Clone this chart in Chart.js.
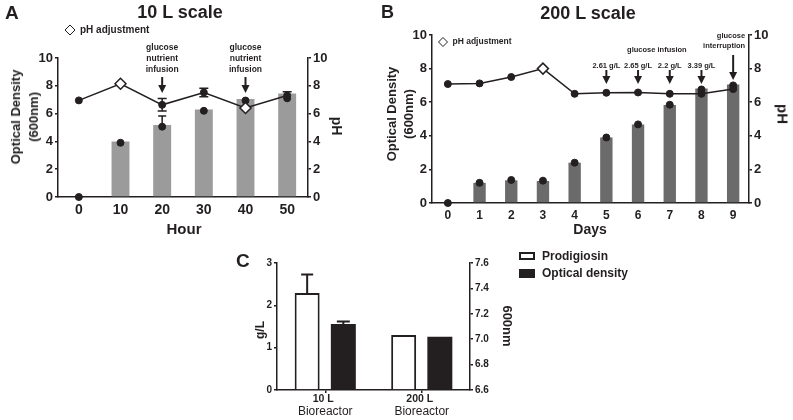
<!DOCTYPE html>
<html>
<head>
<meta charset="utf-8">
<script src="https://cdn.jsdelivr.net/npm/chart.js@4.4.1/dist/chart.umd.min.js"></script>
<style>
  body { margin: 0; background: #fff; }
  #page { position: relative; width: 793px; height: 420px; overflow: hidden; font-family: "Liberation Sans", Arial, sans-serif; color: #231f20; }
  canvas { position: absolute; }
  .t { position: absolute; font-weight: bold; white-space: nowrap; line-height: 1; }
  .c { transform: translate(-50%, -50%); text-align: center; }
  .rl { transform: translate(-50%, -50%) rotate(-90deg); text-align: center; }
  .rr { transform: translate(-50%, -50%) rotate(90deg); text-align: center; }
  .box { position: absolute; box-sizing: border-box; }
</style>
</head>
<body>
<div id="page">
  <canvas id="chartA" width="340" height="240" style="left:0;top:0"></canvas>
  <canvas id="chartB" width="413" height="240" style="left:380px;top:0"></canvas>
  <canvas id="chartC" width="300" height="180" style="left:200px;top:240px"></canvas>

  <div class="t" style="left:5px;top:3px;font-size:19px">A</div>
  <div class="t c" style="left:180px;top:12px;font-size:18px">10 L scale</div>
  <div class="t rl" style="left:25px;top:117px;font-size:13px;line-height:18px">Optical Density<br>(600nm)</div>
  <div class="t rr" style="left:337px;top:126px;font-size:14px">pH</div>
  <div class="t c" style="left:184px;top:228px;font-size:15px">Hour</div>

  <div class="t" style="left:381px;top:3px;font-size:18px">B</div>
  <div class="t c" style="left:588px;top:13px;font-size:18px">200 L scale</div>
  <div class="t rl" style="left:400px;top:114px;font-size:13px;line-height:17px">Optical Density<br>(600nm)</div>
  <div class="t rr" style="left:783px;top:114px;font-size:15px">pH</div>
  <div class="t c" style="left:590px;top:229px;font-size:14px">Days</div>

  <div class="t" style="left:236px;top:251px;font-size:19px">C</div>
  <div class="t rl" style="left:260px;top:330px;font-size:12px">g/L</div>
  <div class="t rr" style="left:507px;top:326px;font-size:13px">600nm</div>
  <div class="box" style="left:519px;top:252px;width:16px;height:8px;border:2px solid #231f20;background:#fff"></div>
  <div class="box" style="left:519px;top:269px;width:16px;height:9px;background:#231f20"></div>
  <div class="t" style="left:542px;top:250px;font-size:12px">Prodigiosin</div>
  <div class="t" style="left:542px;top:267px;font-size:12px">Optical density</div>
</div>

<script>
const FONT = '"Liberation Sans", Arial, sans-serif';
const INK = "#231f20";

// Panel A: 10 L scale
const hoursA = ["0", "10", "20", "30", "40", "50"];
const odBarsA = [0, 4.0, 5.18, 6.3, 7.05, 7.45];
const odBarErrA = [0, 0, 0.65, 0, 0, 0];
const odDotsA = [0, 3.9, 5.06, 6.2, 6.94, 7.1];
const phA = [6.95, 8.15, 6.63, 7.52, 6.4, 7.3];
const phErrA = [0, 0, 0.45, 0.3, 0.55, 0.28];
const phAdjustA = [1, 4];
const infusionA = [2, 4];

// Panel B: 200 L scale
const daysB = ["0", "1", "2", "3", "4", "5", "6", "7", "8", "9"];
const odBarsB = [0, 1.2, 1.35, 1.31, 2.4, 3.9, 4.67, 5.83, 6.82, 7.06];
const odDotsB = [0, 1.2, 1.37, 1.33, 2.4, 3.9, 4.68, 5.85, 6.76, 7.0];
const phB = [7.08, 7.12, 7.5, 8.0, 6.5, 6.56, 6.58, 6.5, 6.5, 6.78];
const phAdjustB = [3];
const infusionDaysB = [5, 6, 7, 8];
const infusionConcB = ["2.61 g/L", "2.65 g/L", "2.2 g/L", "3.39 g/L"];
const interruptionDayB = 9;

// Panel C: comparison
const reactorsC = ["10 L", "200 L"];
const prodigiosinC = [2.29, 1.30];
const prodigiosinErrC = [0.44, 0];
const odC = [7.12, 7.02];
const odErrC = [0.02, 0];

Chart.defaults.font.family = FONT;
Chart.defaults.color = INK;
Chart.defaults.animation = false;
Chart.defaults.plugins.legend.display = false;
Chart.defaults.plugins.tooltip.enabled = false;

// error bars drawn behind the datasets, from the scale of each dataset
const errorBars = {
  id: "errorBars",
  beforeDatasetsDraw(chart) {
    const ctx = chart.ctx;
    chart.data.datasets.forEach((ds, i) => {
      if (!ds.errors) return;
      const meta = chart.getDatasetMeta(i);
      const yScale = chart.scales[ds.yAxisID];
      ctx.save();
      ctx.strokeStyle = INK;
      ctx.lineWidth = ds.errorWidth || 1.5;
      meta.data.forEach((el, j) => {
        const e = ds.errors[j];
        if (!e) return;
        const x = el.x;
        const yTop = yScale.getPixelForValue(ds.data[j] + e);
        const yBot = ds.errorUpOnly ? el.y : yScale.getPixelForValue(ds.data[j] - e);
        const cap = ds.capWidth || 4;
        ctx.beginPath();
        ctx.moveTo(x, yTop);
        ctx.lineTo(x, yBot);
        ctx.moveTo(x - cap, yTop);
        ctx.lineTo(x + cap, yTop);
        if (!ds.errorUpOnly) {
          ctx.moveTo(x - cap, yBot);
          ctx.lineTo(x + cap, yBot);
        }
        ctx.stroke();
      });
      ctx.restore();
    });
  }
};

function drawArrow(ctx, x, y1, y2) {
  ctx.beginPath();
  ctx.moveTo(x, y1);
  ctx.lineTo(x, y2 - 6);
  ctx.lineWidth = 2;
  ctx.stroke();
  ctx.beginPath();
  ctx.moveTo(x - 4, y2 - 8);
  ctx.lineTo(x + 4, y2 - 8);
  ctx.lineTo(x, y2);
  ctx.closePath();
  ctx.fill();
}

function drawDiamondKey(ctx, x, y, r, label, size) {
  ctx.beginPath();
  ctx.moveTo(x, y - r);
  ctx.lineTo(x + r, y);
  ctx.lineTo(x, y + r);
  ctx.lineTo(x - r, y);
  ctx.closePath();
  ctx.fillStyle = "#fff";
  ctx.fill();
  ctx.lineWidth = 1;
  ctx.strokeStyle = INK;
  ctx.stroke();
  ctx.fillStyle = INK;
  ctx.font = "bold " + size + "px " + FONT;
  ctx.textAlign = "left";
  ctx.textBaseline = "middle";
  ctx.fillText(label, x + r + 5, y);
}

function yAxis(pos, min, max, step, width, fontSize, fmt) {
  return {
    position: pos,
    min: min,
    max: max,
    ticks: {
      stepSize: step,
      color: INK,
      padding: 2,
      font: { size: fontSize, weight: "bold" },
      callback: fmt || ((v) => v)
    },
    grid: { drawOnChartArea: false, drawTicks: true, tickLength: 3, color: INK, lineWidth: 1.5 },
    border: { display: true, color: INK, width: 1.5 },
    afterFit: (s) => { s.width = width; }
  };
}

function xAxis(height, fontSize, padding) {
  return {
    type: "category",
    offset: true,
    grid: { display: false, drawTicks: false },
    border: { display: true, color: INK, width: 1.5 },
    ticks: { padding: padding, color: INK, font: { size: fontSize, weight: "bold" } },
    afterFit: (s) => { s.height = height; }
  };
}

function phDataset(values, adjust, errors) {
  return {
    type: "line",
    data: values,
    yAxisID: "y2",
    borderColor: INK,
    borderWidth: 1.5,
    tension: 0,
    clip: false,
    pointStyle: values.map((v, i) => (adjust.includes(i) ? "rectRot" : "circle")),
    pointRadius: values.map((v, i) => (adjust.includes(i) ? 5.5 : 3.5)),
    pointBackgroundColor: values.map((v, i) => (adjust.includes(i) ? "#fff" : INK)),
    pointBorderColor: INK,
    pointBorderWidth: values.map((v, i) => (adjust.includes(i) ? 1.5 : 1)),
    errors: errors,
    capWidth: 4.5,
    order: 0
  };
}

function dotDataset(values) {
  return {
    type: "line",
    data: values,
    yAxisID: "y",
    showLine: false,
    clip: false,
    pointRadius: 3.5,
    pointBackgroundColor: INK,
    pointBorderColor: INK,
    order: 1
  };
}

// ---------- A ----------
const annotateA = {
  id: "annotateA",
  afterDraw(chart) {
    const ctx = chart.ctx;
    const x = chart.scales.x;
    ctx.save();
    ctx.fillStyle = INK;
    ctx.strokeStyle = INK;
    ctx.font = "bold 8.5px " + FONT;
    ctx.textAlign = "center";
    ctx.textBaseline = "middle";
    infusionA.forEach((i) => {
      const px = x.getPixelForValue(i);
      ["glucose", "nutrient", "infusion"].forEach((s, k) => ctx.fillText(s, px, 48 + k * 11));
      drawArrow(ctx, px, 77, 93);
    });
    drawDiamondKey(ctx, 70, 30, 5, "pH adjustment", 10);
    ctx.restore();
  }
};

new Chart(document.getElementById("chartA"), {
  type: "bar",
  data: {
    labels: hoursA,
    datasets: [
      phDataset(phA, phAdjustA, phErrA),
      dotDataset(odDotsA),
      {
        type: "bar",
        data: odBarsA,
        yAxisID: "y",
        backgroundColor: "#9b9b9b",
        barPercentage: 0.43,
        categoryPercentage: 1,
        errors: odBarErrA,
        errorUpOnly: true,
        capWidth: 4,
        order: 2
      }
    ]
  },
  options: {
    responsive: false,
    layout: { padding: { top: 58, left: 0, right: 0, bottom: 0 } },
    scales: {
      x: xAxis(43, 14, 5),
      y: yAxis("left", 0, 10, 2, 58, 13),
      y2: yAxis("right", 0, 10, 2, 32, 13)
    }
  },
  plugins: [errorBars, annotateA]
});

// ---------- B ----------
const annotateB = {
  id: "annotateB",
  afterDraw(chart) {
    const ctx = chart.ctx;
    const x = chart.scales.x;
    ctx.save();
    ctx.fillStyle = INK;
    ctx.strokeStyle = INK;
    ctx.font = "bold 7.5px " + FONT;
    ctx.textAlign = "center";
    ctx.textBaseline = "middle";
    const first = x.getPixelForValue(infusionDaysB[0]);
    const last = x.getPixelForValue(infusionDaysB[infusionDaysB.length - 1]);
    ctx.fillText("glucose infusion", (first + last) / 2 + 3, 50);
    infusionDaysB.forEach((d, k) => {
      const px = x.getPixelForValue(d);
      ctx.fillText(infusionConcB[k], px, 65.5);
      drawArrow(ctx, px, 70, 84);
    });
    const pi = x.getPixelForValue(interruptionDayB);
    ctx.textAlign = "right";
    ctx.fillText("glucose", pi + 12, 36);
    ctx.fillText("interruption", pi + 12, 46);
    drawArrow(ctx, pi, 55, 80);
    drawDiamondKey(ctx, 63, 42, 4.5, "pH adjustment", 8.5);
    ctx.restore();
  }
};

new Chart(document.getElementById("chartB"), {
  type: "bar",
  data: {
    labels: daysB,
    datasets: [
      phDataset(phB, phAdjustB, []),
      dotDataset(odDotsB),
      {
        type: "bar",
        data: odBarsB,
        yAxisID: "y",
        backgroundColor: "#6b6b6b",
        barPercentage: 0.39,
        categoryPercentage: 1,
        order: 2
      }
    ]
  },
  options: {
    responsive: false,
    layout: { padding: { top: 35, left: 0, right: 0, bottom: 0 } },
    scales: {
      x: xAxis(37, 12, 5),
      y: yAxis("left", 0, 10, 2, 52, 13),
      y2: yAxis("right", 0, 10, 2, 44, 13)
    }
  },
  plugins: [errorBars, annotateB]
});

// ---------- C ----------
const labelsC = {
  id: "labelsC",
  afterDraw(chart) {
    const ctx = chart.ctx;
    const x = chart.scales.x;
    ctx.save();
    ctx.fillStyle = INK;
    ctx.textAlign = "center";
    ctx.textBaseline = "middle";
    reactorsC.forEach((r, i) => {
      const px = x.getPixelForValue(i);
      ctx.font = "bold 10.5px " + FONT;
      ctx.fillText(r, px - 2, 159);
      ctx.font = "12px " + FONT;
      ctx.fillText("Bioreactor", px, 172);
    });
    ctx.restore();
  }
};

new Chart(document.getElementById("chartC"), {
  type: "bar",
  data: {
    labels: reactorsC,
    datasets: [
      {
        label: "Prodigiosin",
        data: prodigiosinC,
        yAxisID: "y",
        backgroundColor: "#fff",
        borderColor: INK,
        borderWidth: 2,
        barPercentage: 0.69,
        categoryPercentage: 0.75,
        errors: prodigiosinErrC,
        errorUpOnly: true,
        errorWidth: 2,
        capWidth: 6
      },
      {
        label: "Optical density",
        data: odC,
        yAxisID: "y2",
        base: 6.6,
        backgroundColor: INK,
        barPercentage: 0.69,
        categoryPercentage: 0.75,
        errors: odErrC,
        errorUpOnly: true,
        errorWidth: 2,
        capWidth: 6.5
      }
    ]
  },
  options: {
    responsive: false,
    layout: { padding: { top: 23, left: 0, right: 0, bottom: 0 } },
    scales: {
      x: {
        type: "category",
        offset: true,
        grid: { display: true, drawOnChartArea: false, drawTicks: true, tickLength: 3, offset: false, color: INK, lineWidth: 1.5 },
        border: { display: true, color: INK, width: 1.5 },
        ticks: { display: false },
        afterFit: (s) => { s.height = 30; }
      },
      y: yAxis("left", 0, 3, 1, 77, 10),
      y2: yAxis("right", 6.6, 7.6, 0.2, 30, 10, (v) => v.toFixed(1))
    }
  },
  plugins: [errorBars, labelsC]
});
</script>
</body>
</html>
